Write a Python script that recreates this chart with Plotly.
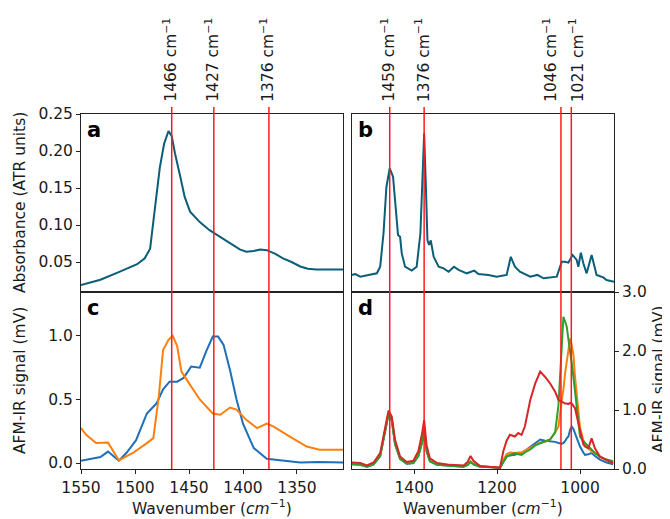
import plotly.graph_objects as go

# ---------------- data ----------------
# panel a: ATR absorbance (zoomed range)
a_wn = [1550, 1532, 1514, 1498, 1491, 1486, 1483, 1480, 1477, 1473, 1469, 1466, 1463, 1458,
        1454, 1449, 1440, 1431, 1421, 1412, 1403, 1397, 1390, 1384, 1378, 1370, 1363, 1355,
        1347, 1340, 1332, 1320, 1307]
a_abs = [0.019, 0.026, 0.037, 0.047, 0.055, 0.068, 0.105, 0.145, 0.178, 0.210, 0.227, 0.220,
         0.197, 0.165, 0.138, 0.118, 0.104, 0.093, 0.084, 0.075, 0.067, 0.064, 0.065, 0.067,
         0.066, 0.061, 0.055, 0.050, 0.044, 0.041, 0.040, 0.040, 0.040]

# panel b: ATR absorbance (full range, arbitrary units)
b_wn = [1550, 1542, 1530, 1506, 1490, 1482, 1474, 1467, 1459, 1451, 1445, 1439, 1434, 1430,
        1422, 1406, 1394, 1385, 1379, 1376, 1372, 1368, 1364, 1360, 1353, 1341, 1329, 1317,
        1304, 1293, 1273, 1255, 1245, 1221, 1201, 1177, 1167, 1157, 1145, 1120, 1103, 1088,
        1056, 1044, 1036, 1028, 1018, 1008, 1004, 998, 992, 984, 972, 966, 960, 944, 936, 918]
b_abs = [0.096, 0.101, 0.086, 0.096, 0.105, 0.142, 0.33, 0.59, 0.695, 0.648, 0.46, 0.32, 0.31,
         0.217, 0.142, 0.12, 0.142, 0.33, 0.70, 0.89, 0.61, 0.29, 0.264, 0.29, 0.198, 0.142,
         0.133, 0.114, 0.142, 0.124, 0.105, 0.12, 0.101, 0.096, 0.086, 0.096, 0.198, 0.142,
         0.114, 0.086, 0.096, 0.077, 0.086, 0.17, 0.17, 0.165, 0.208, 0.18, 0.142, 0.221,
         0.161, 0.105, 0.208, 0.142, 0.096, 0.082, 0.067, 0.058]

# panel c: AFM-IR (two spectra)
c_blue_wn = [1550, 1532, 1525, 1520, 1515, 1508, 1499, 1489, 1480, 1474, 1468, 1461, 1455,
             1448, 1440, 1434, 1428, 1423, 1418, 1412, 1406, 1400, 1390, 1378, 1363, 1347, 1330, 1307]
c_blue = [0.018, 0.047, 0.09, 0.05, 0.018, 0.079, 0.18, 0.39, 0.47, 0.58, 0.64, 0.64, 0.67,
          0.76, 0.75, 0.88, 0.995, 0.995, 0.93, 0.73, 0.50, 0.31, 0.118, 0.034, 0.021, 0.005,
          0.008, 0.005]
c_orange_wn = [1550, 1545, 1536, 1525, 1515, 1502, 1489, 1483, 1478, 1474, 1469, 1465, 1461,
               1457, 1449, 1440, 1428, 1421, 1412, 1406, 1397, 1387, 1378, 1372, 1357, 1341, 1329, 1307]
c_orange = [0.275, 0.22, 0.157, 0.162, 0.021, 0.079, 0.157, 0.196, 0.52, 0.89, 0.97, 1.0, 0.92,
            0.72, 0.615, 0.50, 0.39, 0.38, 0.437, 0.42, 0.34, 0.275, 0.31, 0.288, 0.21, 0.13,
            0.105, 0.105]

# panel d: AFM-IR (four spectra, common wavenumber grid)
d_wn = [1550, 1530, 1514, 1498, 1482, 1470, 1462, 1454, 1446, 1434, 1418, 1402, 1390, 1381,
        1376, 1370, 1362, 1345, 1313, 1281, 1271, 1264, 1257, 1241, 1209, 1193, 1185, 1177,
        1169, 1157, 1149, 1141, 1133, 1120, 1108, 1096, 1084, 1072, 1060, 1052, 1044, 1040,
        1036, 1032, 1028, 1024, 1020, 1016, 1012, 1004, 1000, 992, 988, 980, 972, 964, 952,
        936, 920]
d_blue = [0.08, 0.07, 0.04, 0.08, 0.22, 0.65, 0.93, 0.82, 0.42, 0.17, 0.09, 0.10, 0.22, 0.45,
          0.66, 0.30, 0.13, 0.07, 0.05, 0.04, 0.07, 0.12, 0.08, 0.04, 0.03, 0.02, 0.12, 0.21,
          0.23, 0.24, 0.26, 0.27, 0.31, 0.38, 0.45, 0.50, 0.48, 0.47, 0.46, 0.44, 0.43, 0.44,
          0.47, 0.52, 0.55, 0.66, 0.72, 0.68, 0.61, 0.45, 0.38, 0.28, 0.24, 0.25, 0.27, 0.22,
          0.16, 0.11, 0.08]
d_orange = [0.09, 0.08, 0.05, 0.09, 0.23, 0.67, 0.95, 0.84, 0.44, 0.18, 0.10, 0.11, 0.24, 0.47,
            0.68, 0.32, 0.14, 0.08, 0.06, 0.05, 0.08, 0.13, 0.09, 0.05, 0.03, 0.02, 0.15, 0.25,
            0.28, 0.27, 0.28, 0.28, 0.31, 0.36, 0.41, 0.45, 0.46, 0.50, 0.62, 0.72, 1.17, 1.35,
            1.62, 1.85, 2.02, 2.21, 2.10, 1.95, 1.56, 1.00, 0.70, 0.49, 0.42, 0.35, 0.30, 0.27,
            0.21, 0.15, 0.12]
d_green = [0.08, 0.07, 0.04, 0.08, 0.22, 0.65, 0.93, 0.82, 0.42, 0.17, 0.09, 0.10, 0.22, 0.45,
           0.65, 0.30, 0.13, 0.07, 0.05, 0.04, 0.07, 0.12, 0.08, 0.04, 0.03, 0.02, 0.12, 0.21,
           0.24, 0.27, 0.25, 0.24, 0.28, 0.33, 0.40, 0.44, 0.47, 0.50, 0.62, 1.08, 2.18, 2.58,
           2.50, 2.41, 2.20, 2.02, 1.80, 1.57, 1.30, 0.80, 0.55, 0.47, 0.44, 0.38, 0.33, 0.27,
           0.21, 0.16, 0.13]
d_red = [0.11, 0.10, 0.06, 0.11, 0.27, 0.72, 0.99, 0.89, 0.49, 0.21, 0.12, 0.14, 0.30, 0.60,
         0.83, 0.40, 0.18, 0.10, 0.07, 0.06, 0.12, 0.22, 0.14, 0.05, 0.03, 0.02, 0.30, 0.48,
         0.58, 0.55, 0.61, 0.58, 0.72, 1.17, 1.45, 1.65, 1.56, 1.45, 1.31, 1.17, 1.14, 1.12,
         1.11, 1.11, 1.10, 1.12, 1.11, 1.07, 1.03, 0.78, 0.66, 0.42, 0.38, 0.35, 0.52, 0.35,
         0.21, 0.15, 0.10]

left_marks = [1466, 1427, 1376]
right_marks = [1459, 1376, 1046, 1021]
right_label_shift = [0, 0, -9, 7]   # labels pushed apart so they do not overlap

panel_letters = ["a", "b", "c", "d"]
x_title = "Wavenumber (<i>cm</i><sup>−1</sup>)"
ya_title = "Absorbance (ATR units)"
yc_title = "AFM-IR signal (mV)"

# ---------------- figure ----------------
TEAL = "#0b5e78"
BLUE = "#1f6fb8"
ORANGE = "#ff7f0e"
GREEN = "#2ca02c"
RED = "#d62728"
FONT = "DejaVu Sans"
FS = 15.5
TXT = "#1a1a1a"

fig = go.Figure()
lw = 2
fig.add_trace(go.Scatter(x=a_wn, y=a_abs, xaxis="x", yaxis="y", mode="lines",
                         line=dict(color=TEAL, width=lw)))
fig.add_trace(go.Scatter(x=b_wn, y=b_abs, xaxis="x2", yaxis="y2", mode="lines",
                         line=dict(color=TEAL, width=lw)))
fig.add_trace(go.Scatter(x=c_blue_wn, y=c_blue, xaxis="x3", yaxis="y3", mode="lines",
                         line=dict(color=BLUE, width=lw)))
fig.add_trace(go.Scatter(x=c_orange_wn, y=c_orange, xaxis="x3", yaxis="y3", mode="lines",
                         line=dict(color=ORANGE, width=lw)))
for ys, col in [(d_blue, BLUE), (d_orange, ORANGE), (d_green, GREEN), (d_red, RED)]:
    fig.add_trace(go.Scatter(x=d_wn, y=ys, xaxis="x4", yaxis="y4", mode="lines",
                             line=dict(color=col, width=lw)))

# the page body has an 8 px margin, so the figure is drawn 8 px in from the window corner
OFF = 8
WIN_W, WIN_H = 670, 519
W, H = WIN_W - OFF, WIN_H - OFF
# plot-area edges in window pixels
PL, PR, PT, PB = 81, 614, 114, 469
L, T = PL - OFF, PT - OFF
R, B = W - (PR - OFF), H - (PB - OFF)
ph = H - T - B
pw = W - L - R


def px_x(p):  # window pixel -> paper x
    return (p - PL) / pw


def px_y(p):  # window pixel -> paper y
    return (PB - p) / ph


xa_dom = [0, px_x(343)]
xb_dom = [px_x(352), 1]
y_split = px_y(292)
ya_dom = [y_split, 1]
yc_dom = [0, y_split]


def ax(**kw):
    d = dict(showline=True, mirror=True, linecolor="#222", linewidth=1,
             ticks="outside", ticklen=4, tickcolor="#222", showgrid=False,
             zeroline=False, automargin=False,
             tickfont=dict(family=FONT, size=FS, color=TXT))
    d.update(kw)
    return d


fig.update_layout(
    width=W, height=H,
    margin=dict(l=L, r=R, t=T, b=B, autoexpand=False),
    paper_bgcolor="white", plot_bgcolor="white",
    showlegend=False,
    font=dict(family=FONT, size=FS, color=TXT),
    xaxis=ax(domain=xa_dom, anchor="y", range=[1550, 1307.4], showticklabels=False, ticks=""),
    yaxis=ax(domain=ya_dom, anchor="x", range=[0.0095, 0.25],
             tickvals=[0.05, 0.10, 0.15, 0.20, 0.25], tickformat=".2f"),
    xaxis2=ax(domain=xb_dom, anchor="y2", range=[1550, 918], showticklabels=False, ticks=""),
    yaxis2=ax(domain=ya_dom, anchor="x2", range=[0, 1], showticklabels=False, ticks=""),
    xaxis3=ax(domain=xa_dom, anchor="y3", range=[1550, 1307.4],
              tickvals=[1550, 1500, 1450, 1400, 1350]),
    yaxis3=ax(domain=yc_dom, anchor="x3", range=[-0.047, 1.346], tickvals=[0, 0.5, 1.0],
              tickformat=".1f"),
    xaxis4=ax(domain=xb_dom, anchor="y4", range=[1550, 918], tickvals=[1400, 1200, 1000]),
    yaxis4=ax(domain=yc_dom, anchor="x4", range=[0, 3], tickvals=[0, 1, 2, 3], side="right",
              tickformat=".1f"),
)

title_font = dict(family=FONT, size=FS, color=TXT)
fig.add_annotation(x=px_x(20), y=px_y(203), xref="paper", yref="paper", text=ya_title,
                   textangle=-90, showarrow=False, xanchor="center", yanchor="middle", font=title_font)
fig.add_annotation(x=px_x(20), y=px_y(381), xref="paper", yref="paper", text=yc_title,
                   textangle=-90, showarrow=False, xanchor="center", yanchor="middle", font=title_font)
fig.add_annotation(x=px_x(659), y=px_y(380), xref="paper", yref="paper", text=yc_title,
                   textangle=-90, showarrow=False, xanchor="center", yanchor="middle", font=title_font)
fig.add_annotation(x=px_x(212), y=px_y(507.5), xref="paper", yref="paper", text=x_title,
                   showarrow=False, xanchor="center", yanchor="middle", font=title_font)
fig.add_annotation(x=px_x(483), y=px_y(507.5), xref="paper", yref="paper", text=x_title,
                   showarrow=False, xanchor="center", yanchor="middle", font=title_font)

# red marker lines and their labels
y_top = px_y(107)
y_lab = px_y(104)
for xref, marks, shifts in [("x", left_marks, [0] * len(left_marks)),
                            ("x2", right_marks, right_label_shift)]:
    for m, s in zip(marks, shifts):
        fig.add_shape(type="line", xref=xref, yref="paper", x0=m, x1=m, y0=0, y1=y_top,
                      line=dict(color="#ff1a1a", width=1.5), layer="above")
        fig.add_annotation(x=m, xref=xref, y=y_lab, yref="paper", text=f"{m} cm<sup>−1</sup>",
                           textangle=-90, showarrow=False, xanchor="center", yanchor="bottom",
                           xshift=s - 2, font=dict(family=FONT, size=FS, color=TXT))

# panel letters
for letter, xr, yr in zip(panel_letters, ["x", "x2", "x3", "x4"], ["y", "y2", "y3", "y4"]):
    fig.add_annotation(x=0.015, xref=f"{xr} domain", y=0.99, yref=f"{yr} domain",
                       text=f"<b>{letter}</b>", showarrow=False, xanchor="left", yanchor="top",
                       font=dict(family=FONT, size=21, color="black"))

fig.write_html("out.html")
